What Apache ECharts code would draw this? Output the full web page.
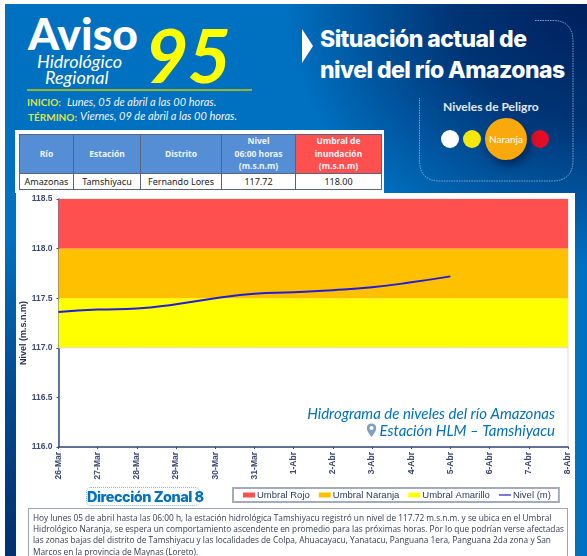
<!DOCTYPE html>
<html>
<head>
<meta charset="utf-8">
<title>Aviso Hidrológico Regional 95</title>
<script src="https://cdn.jsdelivr.net/npm/echarts@6/dist/echarts.min.js"></script>
<style>
html, body { margin: 0; padding: 0; background: #fff; }
.page { position: relative; width: 587px; height: 556px; overflow: hidden; background: #fff; font-family: "Noto Sans", sans-serif; }
.panel { position: absolute; left: 5px; top: 4px; width: 582px; height: 552px;
  background:
    radial-gradient(ellipse 300px 260px at 100% 0%, #00205c 0%, rgba(0,32,92,0.75) 45%, rgba(0,32,92,0) 100%),
    radial-gradient(ellipse 340px 320px at 0% 100%, #00306f 0%, rgba(0,48,111,0.6) 50%, rgba(0,48,111,0) 100%),
    #0070c0; }
.abs { position: absolute; white-space: nowrap; line-height: 1; }
.white-box { position: absolute; background: #fff; }
table { position: absolute; left: 19px; top: 134px; width: 362px; height: 54px; border-collapse: collapse; table-layout: fixed; font-size: 8.5px; }
th, td { border: 1px solid #5a6478; text-align: center; padding: 0; color: #222; }
th { background: #558ed5; color: #eef3fa; font-weight: 700; line-height: 12.5px; height: 38px; }
th.red { background: #ff5050; }
td { height: 15px; font-size: 9px; }
.note { position: absolute; left: 28px; top: 508px; width: 540px; height: 48px; box-sizing: border-box; border: 1px solid #9aa5b8; border-bottom: 0; background: #fff;
  padding: 3px 3px 0 4px; font-size: 8.3px; line-height: 11.2px; color: #333c55; white-space: nowrap; font-family: "Open Sans", sans-serif; }
</style>
</head>
<body>
<div class="page">
  <div class="panel"></div>

  <div class="abs" style="left:28px;top:11px;font:900 44.5px/1 Lato,sans-serif;color:#fff">Aviso</div>
  <div class="abs" style="left:37px;top:52px;font:italic 400 18px/1 Lato,sans-serif;color:#fff">Hidrológico</div>
  <div class="abs" style="left:45px;top:68px;font:italic 400 18px/1 Lato,sans-serif;color:#fff">Regional</div>
  <div class="abs" style="left:145px;top:17px;font:italic 700 75px/1 Lato,sans-serif;letter-spacing:-1px;color:#ffff00">95</div>
  <div class="abs" style="left:27px;top:89px;width:225px;height:1.5px;background:#92b52f"></div>
  <div class="abs" style="left:27px;top:97px;font:700 10px/1 Lato,sans-serif;color:#dbe34a">INICIO:</div>
  <div class="abs" style="left:67px;top:96px;font:italic 400 11px/1 Lato,sans-serif;color:#f2f5fa">Lunes, 05 de abril a las 00 horas.</div>
  <div class="abs" style="left:28px;top:112px;font:700 10px/1 Lato,sans-serif;color:#dbe34a">TÉRMINO:</div>
  <div class="abs" style="left:80px;top:110px;font:italic 400 11px/1 Lato,sans-serif;color:#f2f5fa">Viernes, 09 de abril a las 00 horas.</div>

  <svg class="abs" style="left:0;top:0" width="587" height="190">
    <path d="M302 29 L313 46 L302 63 Z" fill="#fff"/>
    <path d="M535 20.5 H553 Q573 20.5 573 42 V160 Q573 181 552 181 H440 Q419.5 181 419.5 160 V98" fill="none" stroke="#9fc0e4" stroke-width="0.8" stroke-dasharray="1.5 1"/>
  </svg>
  <div class="abs" style="left:320px;top:28px;font:800 23px/1 Inter,sans-serif;letter-spacing:-0.55px;color:#fff">Situación actual de</div>
  <div class="abs" style="left:320px;top:59px;font:800 23px/1 Inter,sans-serif;letter-spacing:-0.55px;color:#fff">nivel del río Amazonas</div>
  <div class="abs" style="left:443px;top:101px;font:700 12px/1 Lato,sans-serif;color:#e4e9f2">Niveles de Peligro</div>
  <div class="abs" style="left:441px;top:130px;width:18px;height:18px;border-radius:50%;background:#fff"></div>
  <div class="abs" style="left:463px;top:130px;width:18px;height:18px;border-radius:50%;background:#f5e60e"></div>
  <div class="abs" style="left:531px;top:130px;width:18px;height:18px;border-radius:50%;background:#e30e25"></div>
  <div class="abs" style="left:485px;top:118px;width:42px;height:42px;border-radius:50%;background:#f9a90c;box-shadow:3px 5px 9px rgba(0,20,60,0.6);font:400 10px/42px Lato,sans-serif;color:#fff;text-align:center">Naranja</div>

  <div class="white-box" style="left:15px;top:130px;width:369px;height:63px"></div>
  <div class="white-box" style="left:16px;top:193px;width:559px;height:363px"></div>
  <table>
    <colgroup><col style="width:54px"><col style="width:67px"><col style="width:81px"><col style="width:74px"><col style="width:86px"></colgroup>
    <tr><th>Río</th><th>Estación</th><th>Distrito</th><th>Nivel<br>06:00 horas<br>(m.s.n.m)</th><th class="red">Umbral de<br>inundación<br>(m.s.n.m)</th></tr>
    <tr><td>Amazonas</td><td>Tamshiyacu</td><td>Fernando Lores</td><td>117.72</td><td>118.00</td></tr>
  </table>

  <div id="chart" style="position:absolute;left:16px;top:193px;width:559px;height:312px"></div>

  <svg class="abs" style="left:366px;top:423px" width="11" height="15">
    <path d="M5.5 0.5 C2.5 0.5 0.8 2.8 0.8 5 C0.8 8.5 5.5 14 5.5 14 C5.5 14 10.2 8.5 10.2 5 C10.2 2.8 8.5 0.5 5.5 0.5 Z" fill="#7f9fc0"/>
    <circle cx="5.5" cy="5" r="2" fill="#fff"/>
  </svg>

  <div class="abs" style="left:86px;top:487px;width:112px;height:17px;border:1px dotted #7fb4e0;border-radius:5px;font:800 14.5px/17px Inter,sans-serif;letter-spacing:-0.5px;color:#0070c0;text-align:center">Dirección Zonal 8</div>

  <div class="note">Hoy lunes 05 de abril hasta las 06:00 h, la estación hidrológica Tamshiyacu registró un nivel de 117.72 m.s.n.m. y se ubica en el Umbral<br>Hidrológico Naranja, se espera un comportamiento ascendente en promedio para las próximas horas. Por lo que podrían verse afectadas<br>las zonas bajas del distrito de Tamshiyacu y las localidades de Colpa, Ahuacayacu, Yanatacu, Panguana 1era, Panguana 2da zona y San<br>Marcos en la provincia de Maynas (Loreto).</div>
</div>

<script>
const fechas = ['26-Mar', '27-Mar', '28-Mar', '29-Mar', '30-Mar', '31-Mar', '1-Abr', '2-Abr', '3-Abr', '4-Abr', '5-Abr', '6-Abr', '7-Abr', '8-Abr']
const nivel = [117.36, 117.385, 117.395, 117.44, 117.5, 117.545, 117.56, 117.58, 117.61, 117.66, 117.72]
const baseUmbral = [117, 117, 117, 117, 117, 117, 117, 117, 117, 117, 117, 117, 117, 117]
const umbralAmarillo = [0.5, 0.5, 0.5, 0.5, 0.5, 0.5, 0.5, 0.5, 0.5, 0.5, 0.5, 0.5, 0.5, 0.5]
const umbralNaranja = [0.5, 0.5, 0.5, 0.5, 0.5, 0.5, 0.5, 0.5, 0.5, 0.5, 0.5, 0.5, 0.5, 0.5]
const umbralRojo = [0.5, 0.5, 0.5, 0.5, 0.5, 0.5, 0.5, 0.5, 0.5, 0.5, 0.5, 0.5, 0.5, 0.5]

const axisColor = '#33497e'
const labelColor = '#3c4a75'

function banda(name, data, color) {
  return {
    name,
    type: 'line',
    stack: 'umbral',
    data,
    color,
    symbol: 'none',
    lineStyle: { width: 0 },
    areaStyle: { color, opacity: 1 },
    silent: true
  }
}

const chart = echarts.init(document.getElementById('chart'))
chart.setOption({
  animation: false,
  grid: { left: 42.5, width: 509.5, top: 6, height: 248, show: true, borderColor: '#dddddd', borderWidth: 1, outerBoundsMode: 'none' },
  graphic: [
    { type: 'text', right: 20, top: 214, z: 10, style: { text: 'Hidrograma de niveles del río Amazonas', fill: '#0070c0', font: 'italic 400 15px Lato' } },
    { type: 'text', right: 20, top: 231, z: 10, style: { text: 'Estación HLM – Tamshiyacu', fill: '#0070c0', font: 'italic 400 15px Lato' } }
  ],
  legend: {
    left: 217,
    top: 295,
    width: 310,
    padding: [2, 8, 2, 10],
    borderColor: '#a3abbd',
    borderWidth: 2,
    itemWidth: 12,
    itemHeight: 5,
    itemGap: 9,
    textStyle: { color: '#2c3a60', fontSize: 9.5, fontWeight: 400, fontFamily: 'Liberation Sans', padding: [0, 0, 0, -3] },
    data: [
      { name: 'Umbral Rojo', icon: 'rect' },
      { name: 'Umbral Naranja', icon: 'rect' },
      { name: 'Umbral Amarillo', icon: 'rect' },
      { name: 'Nivel (m)', icon: 'path://M0 4.4H12V5.6H0Z' }
    ]
  },
  xAxis: {
    type: 'category',
    data: fechas,
    boundaryGap: false,
    axisLine: { lineStyle: { color: axisColor, width: 1.5 } },
    axisTick: { show: true, length: 2, alignWithLabel: true, lineStyle: { color: axisColor } },
    axisLabel: { interval: 0, rotate: 90, margin: 5, color: labelColor, fontSize: 8.5, fontWeight: 600, fontFamily: 'Liberation Sans' },
    splitLine: { show: false }
  },
  yAxis: {
    type: 'value',
    min: 116,
    max: 118.5,
    interval: 0.5,
    name: 'Nivel (m.s.n.m)',
    nameLocation: 'middle',
    nameGap: 30,
    nameMoveOverlap: false,
    nameTextStyle: { color: '#25325c', fontSize: 9, fontWeight: 700, fontFamily: 'Liberation Sans', padding: [0, 20, 0, 0] },
    axisLine: { show: true, lineStyle: { color: axisColor, width: 1.5 } },
    axisTick: { show: true, length: 2, lineStyle: { color: axisColor } },
    axisLabel: { margin: 6, color: labelColor, fontSize: 8.5, fontWeight: 600, fontFamily: 'Liberation Sans', formatter: v => v.toFixed(1) },
    splitLine: { show: false }
  },
  series: [
    {
      name: 'base',
      type: 'line',
      stack: 'umbral',
      data: baseUmbral,
      symbol: 'none',
      lineStyle: { color: '#d9d9d9', width: 1 },
      silent: true
    },
    banda('Umbral Amarillo', umbralAmarillo, '#ffff00'),
    banda('Umbral Naranja', umbralNaranja, '#ffc000'),
    banda('Umbral Rojo', umbralRojo, '#ff5050'),
    {
      name: 'Nivel (m)',
      type: 'line',
      data: nivel,
      color: '#1f1fd8',
      symbol: 'none',
      smooth: true,
      z: 5,
      lineStyle: { width: 2 }
    }
  ]
})
</script>
</div>
</body>
</html>
